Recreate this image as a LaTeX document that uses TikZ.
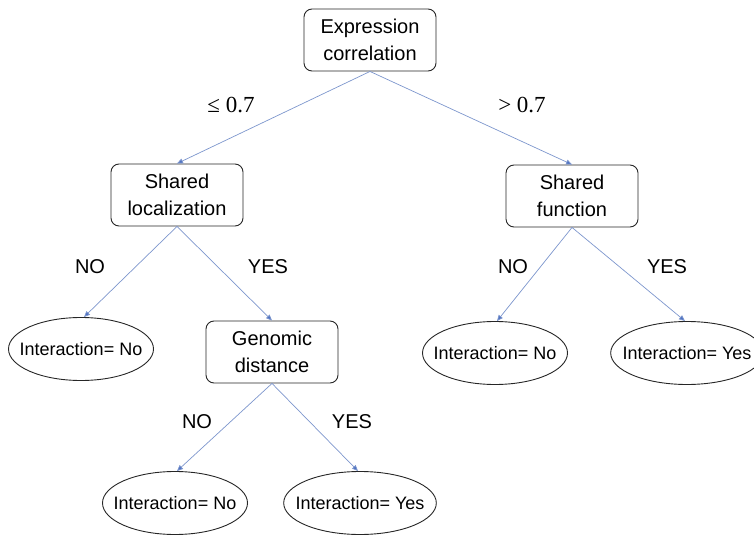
\documentclass[tikz,border=0pt]{standalone}
\usepackage{fontspec}
\setmainfont{Liberation Sans}
\newfontfamily\serifnum{Liberation Serif}
\usepackage{xcolor}
\usepackage{tikz}
\usetikzlibrary{
  shapes.geometric,
  arrows.meta,
  positioning
}
\definecolor{azulflecha}{RGB}{80,115,195}
\definecolor{azullinea}{RGB}{125,150,205}

\begin{document}
\begin{tikzpicture}[
  x=1pt, y=-1pt,
  dec/.style  = {
    rectangle, draw=black!85, line width=0.9pt,
    rounded corners=8pt, align=center,
    minimum width=132pt, minimum height=62pt, inner sep=2pt,
    font=\fontsize{20}{26.5}\selectfont
  },
  hoja/.style = {
    ellipse, draw=black!85, line width=0.9pt,
    minimum width=145pt, minimum height=63pt,
    inner xsep=-10.5pt, inner ysep=0pt,
    font=\fontsize{18}{22}\selectfont
  },
  rama/.style = {font=\fontsize{20}{24}\selectfont},
  umbral/.style = {font=\serifnum\fontsize{23}{26}\selectfont},
  arr/.style  = {-{Triangle[length=6pt,width=5pt,fill=azulflecha]},
                 azullinea, line width=0.7pt}
]
\useasboundingbox (0,0) rectangle (754,537);

% Nodos de decision
\node[dec] (expr)  at (370,40)  {Expression\\correlation};
\node[dec] (loc)   at (177,195) {Shared\\localization};
\node[dec] (func)  at (572,196) {Shared\\function};
\node[dec] (geno)  at (272,352) {Genomic\\distance};

% Hojas
\node[hoja] (locno)   at (81,349)  {Interaction= No};
\node[hoja] (funcno)  at (495,353) {Interaction= No};
\node[hoja] (funcyes) at (687,353) {Interaction= Yes};
\node[hoja] (genono)  at (175,503) {Interaction= No};
\node[hoja] (genoyes) at (360,503) {Interaction= Yes};

% Etiquetas de rama
\node[umbral] (lbllow)  at (231,105) {≤ 0.7};
\node[umbral] (lblhigh) at (522,105) {> 0.7};
\node[rama] (lbl1) at (90,267)  {NO};
\node[rama] (lbl2) at (268,267) {YES};
\node[rama] (lbl3) at (513,267) {NO};
\node[rama] (lbl4) at (667,267) {YES};
\node[rama] (lbl5) at (197,422) {NO};
\node[rama] (lbl6) at (352,422) {YES};

% Flechas
\draw[arr] (expr.south) -- (loc.north);
\draw[arr] (expr.south) -- (func.north);
\draw[arr] (loc.south)  -- ([xshift=3pt]locno.north);
\draw[arr] (loc.south)  -- (geno.north);
\draw[arr] (func.south) -- ([xshift=2pt]funcno.north);
\draw[arr] (func.south) -- ([xshift=-2pt]funcyes.north);
\draw[arr] (geno.south) -- ([xshift=2pt]genono.north);
\draw[arr] (geno.south) -- ([xshift=-2pt]genoyes.north);

\end{tikzpicture}
\end{document}
